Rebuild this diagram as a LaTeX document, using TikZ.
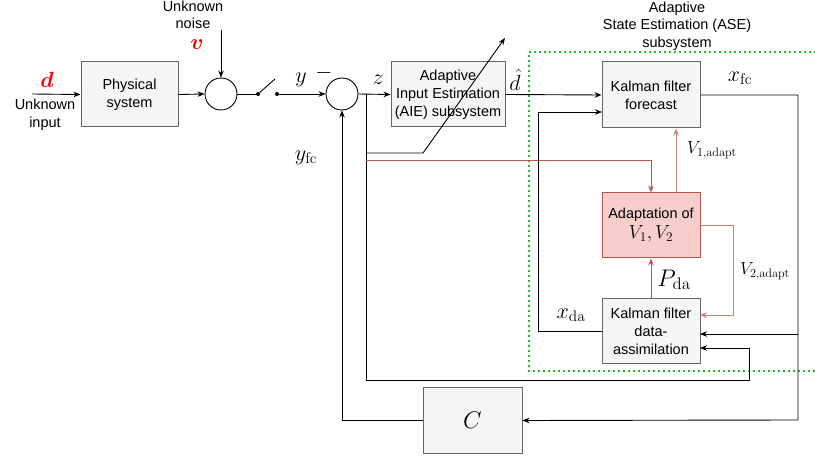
\RequirePackage{fix-cm}
\documentclass[tikz,border=0pt]{standalone}
\usepackage{amsmath}
\usepackage[no-math]{fontspec}
\setmainfont{Liberation Sans}
\usetikzlibrary{arrows.meta}
\definecolor{boxfill}{HTML}{F5F5F5}
\definecolor{boxdraw}{HTML}{666666}
\definecolor{redfill}{HTML}{F8CECC}
\definecolor{reddraw}{HTML}{B85450}
\definecolor{dotgreen}{HTML}{22BB22}
\begin{document}
\begin{tikzpicture}[x=1pt,y=-1pt,
  box/.style={draw=boxdraw, fill=boxfill, line width=1pt, align=center, font=\fontsize{14.5}{18}\selectfont, inner sep=0pt},
  redbox/.style={box, draw=reddraw, fill=redfill},
  sumc/.style={draw, circle, minimum size=32pt, inner sep=0pt, line width=0.9pt},
  dotn/.style={circle, fill, minimum size=4pt, inner sep=0pt},
  arr/.style={-{Stealth[length=7pt,width=5.5pt]}, line width=0.9pt},
  ln/.style={line width=0.9pt},
  redarr/.style={arr, draw=reddraw},
  litered/.style={arr, draw=reddraw!75},
  lbl/.style={font=\fontsize{14.5}{17.5}\selectfont, align=center, inner sep=0pt},
  mlbl/.style={font=\fontsize{22}{26}\selectfont, inner sep=0pt}
]
\useasboundingbox (0,0) rectangle (815,457);

% green dotted ASE region
\draw[dotgreen, line width=1.6pt, dash pattern=on 1.6pt off 3.4pt] (816,52) -- (529,52) -- (529,371) -- (816,371);

% blocks
\node[box, minimum width=97pt, minimum height=65pt] (phys) at (129.5,94.5) {Physical\\system};
\node[sumc] (s1) at (221,94) {};
\node[sumc] (s2) at (342,94) {};
\node[dotn] (sw1) at (258,94) {};
\node[dotn] (sw2) at (277,94) {};
\coordinate (swb) at (275,79);
\node[box, minimum width=114pt, minimum height=65pt] (aie) at (448,94.5) {Adaptive\\Input Estimation\\(AIE) subsystem};
\node[box, minimum width=98pt, minimum height=66pt] (kff) at (651,95) {Kalman filter\\forecast};
\node[redbox, minimum width=98pt, minimum height=65pt] (adapt) at (651,225.5) {Adaptation of\\[2pt]{\fontsize{19}{22}\selectfont$V_1,V_2$}};
\node[box, minimum width=98pt, minimum height=65pt] (kfda) at (651,331.5) {Kalman filter\\data-\\assimilation};
\node[box, minimum width=99pt, minimum height=65pt] (C) at (472.5,420.5) {\fontsize{24}{28}\selectfont$C$};

% labels
\node[lbl] (unkin) at (45,115) {Unknown\\input};
\node[lbl] (unkno) at (193,15) {Unknown\\noise};
\node[lbl] (asel) at (677,26) {Adaptive\\State Estimation (ASE)\\subsystem};
\node[mlbl, text=red] (dl) at (47,80) {$\boldsymbol{d}$};
\node[mlbl, text=red] (vl) at (197,45) {$\boldsymbol{v}$};
\node[mlbl] (yl) at (301,80) {$y$};
\node[mlbl] (ml) at (324,73) {$-$};
\node[mlbl] (zl) at (378,80) {$z$};
\node[mlbl] (dhl) at (515,80) {$\hat{d}$};
\node[mlbl] (xfcl) at (740,78) {$x_{\mathrm{fc}}$};
\node[mlbl] (yfcl) at (306,158) {$y_{\mathrm{fc}}$};
\node[mlbl] (xdal) at (571,315) {$x_{\mathrm{da}}$};
\node[font=\fontsize{24}{28}\selectfont, inner sep=0pt] (pdal) at (674,280) {$P_{\mathrm{da}}$};
\node[font=\fontsize{17.5}{20}\selectfont, inner sep=0pt] (v1l) at (712,150) {$V_{1,\mathrm{adapt}}$};
\node[font=\fontsize{17.5}{20}\selectfont, inner sep=0pt] (v2l) at (765,271) {$V_{2,\mathrm{adapt}}$};

% connectors
\coordinate (din) at (32,94);
\draw[arr] (din) -- (phys.west);
\draw[arr] (phys.east) -- (s1.west);
\coordinate (nz) at (221,30);
\draw[arr] (nz) -- (s1.north);
\draw[ln] (s1.east) -- (sw1);
\draw[ln] (sw1) -- (swb);
\draw[arr] (sw2) -- (s2.west);
\draw[arr] (s2.east) -- (aie.west);

\coordinate (zb) at (366,94);
\coordinate (br1) at (366,153);
\coordinate (br2) at (366,160);
\coordinate (adtip) at (505,38);
\draw[arr] (zb) |- (749,380) |- (700,348);
\draw[arr] (br1) -- (423,153) -- (adtip);
\draw[redarr] (br2) -| (adapt.north);

\draw[arr] (aie.east) -- (kff.west);
\draw[arr] (kfda.west) -| (538,112) -- (602,112);
\draw[arr] (kff.east) -| (798,420) -- (C.east);
\draw[arr] (798,334) -- (700,334);
\draw[arr] (C.west) -| (s2.south);

\draw[litered] ([xshift=25pt]adapt.north) -- ([xshift=25pt]kff.south);
\draw[litered] (adapt.east) -| (733,315) -- (700,315);
\draw[redarr] (kfda.north) -- (adapt.south);
\end{tikzpicture}
\end{document}
